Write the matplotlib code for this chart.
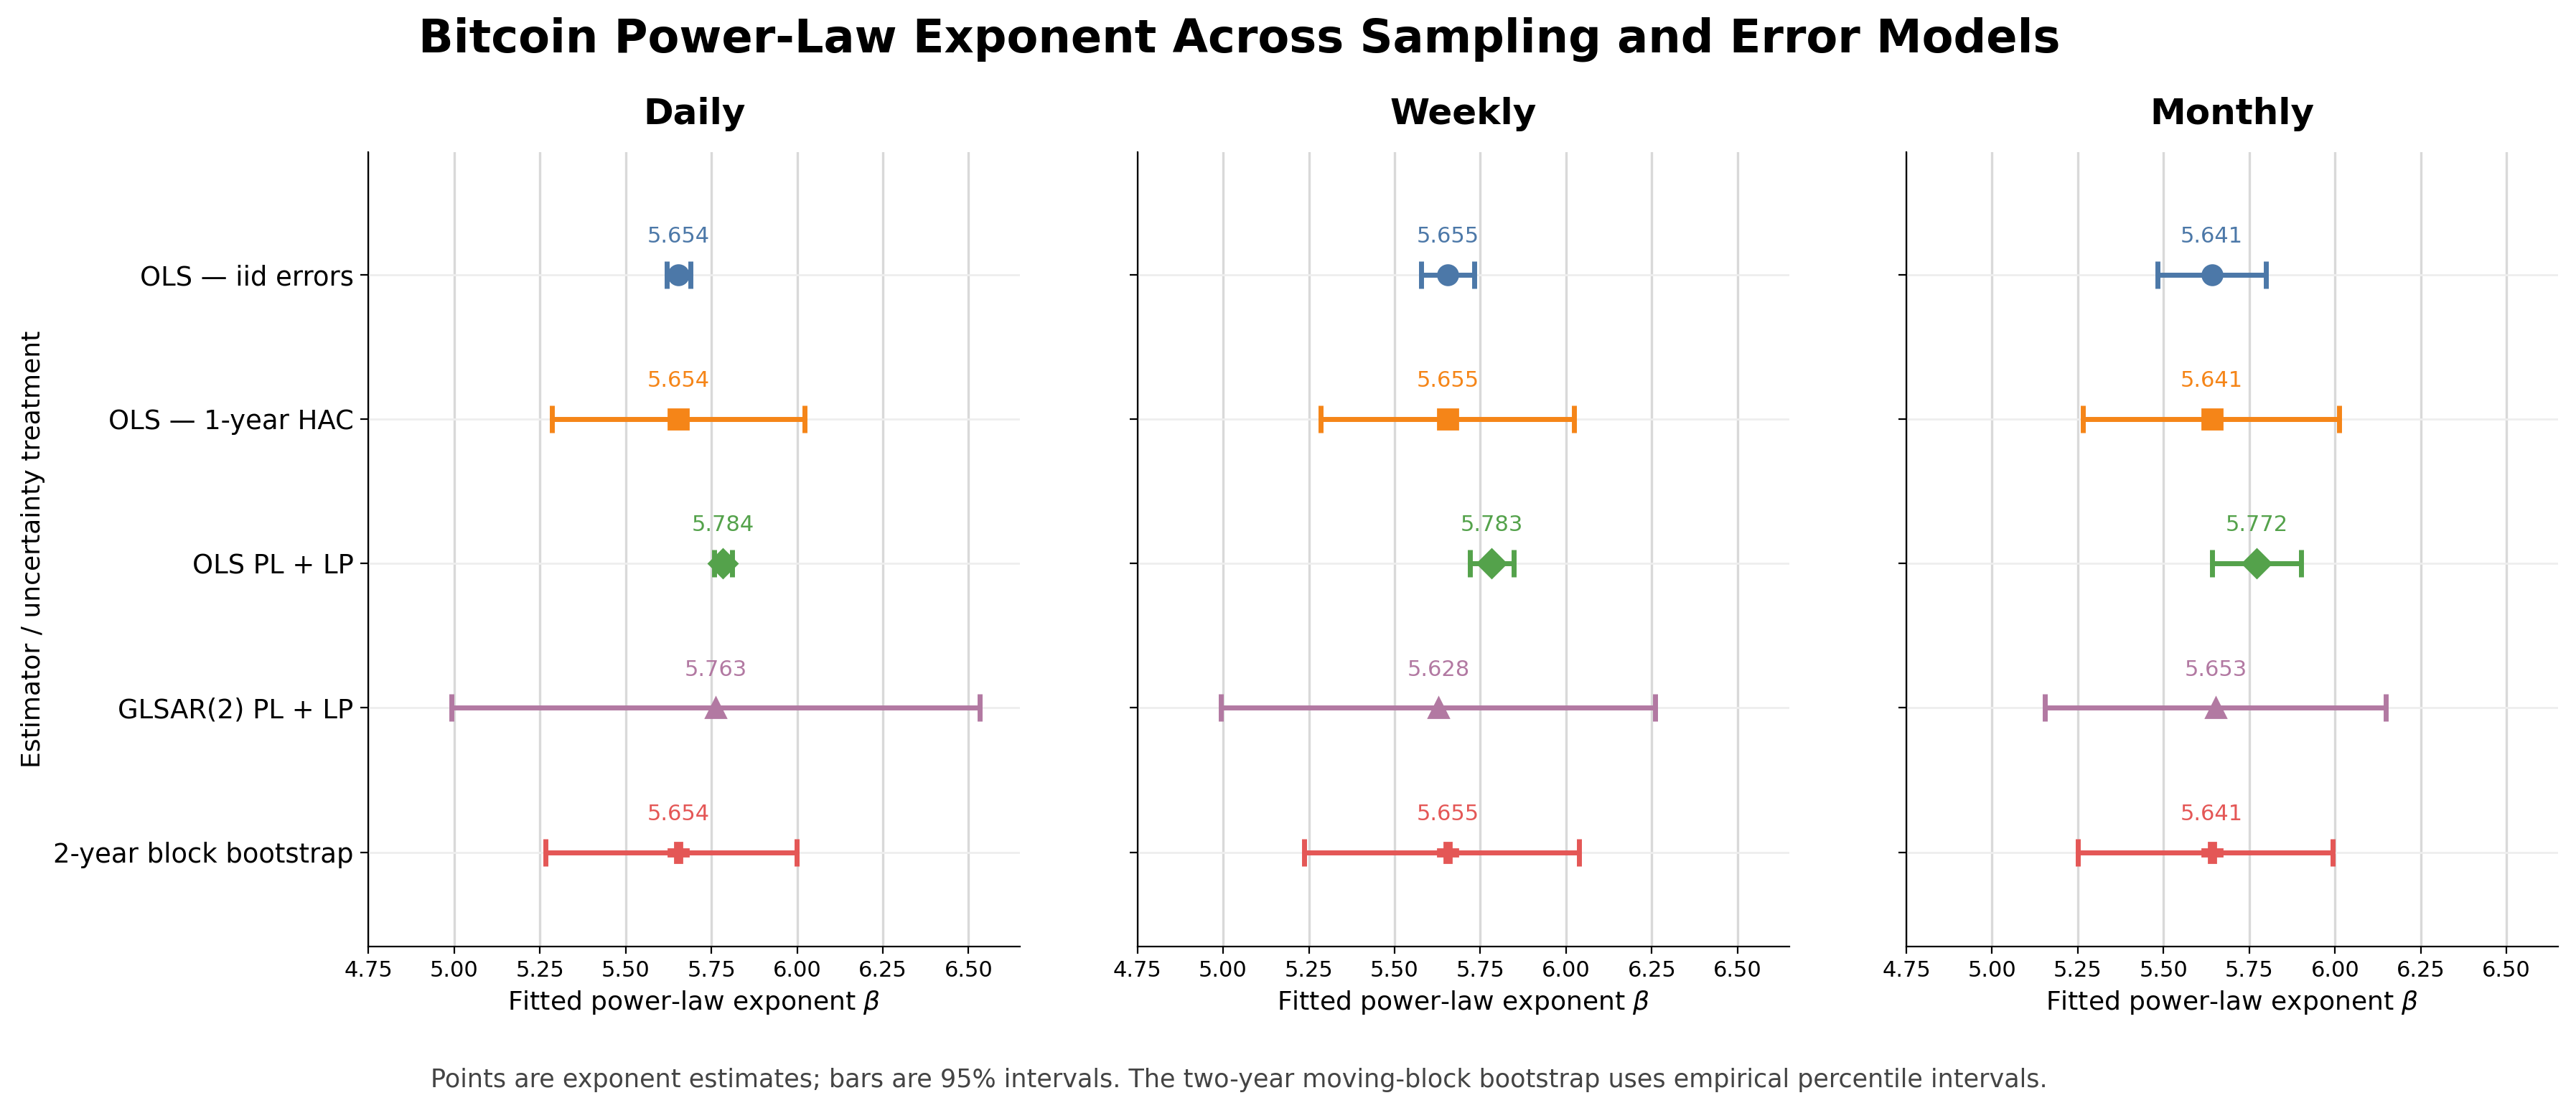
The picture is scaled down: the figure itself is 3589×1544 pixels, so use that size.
import numpy as np
import matplotlib.pyplot as plt

# estimator rows, top to bottom
estimators = [
    "OLS — iid errors",
    "OLS — 1-year HAC",
    "OLS PL + LP",
    "GLSAR(2) PL + LP",
    "2-year block bootstrap",
]
panels = ["Daily", "Weekly", "Monthly"]

# point estimates per panel
daily_est = [5.654, 5.654, 5.784, 5.763, 5.654]
weekly_est = [5.655, 5.655, 5.783, 5.628, 5.655]
monthly_est = [5.641, 5.641, 5.772, 5.653, 5.641]

# 95% interval bounds per panel
daily_lo = [5.620, 5.285, 5.759, 4.992, 5.266]
daily_hi = [5.689, 6.022, 5.810, 6.532, 5.999]
weekly_lo = [5.577, 5.285, 5.720, 4.994, 5.236]
weekly_hi = [5.733, 6.023, 5.847, 6.259, 6.037]
monthly_lo = [5.482, 5.265, 5.641, 5.155, 5.250]
monthly_hi = [5.799, 6.013, 5.902, 6.149, 5.994]

x_ticks = [4.75, 5.00, 5.25, 5.50, 5.75, 6.00, 6.25, 6.50]

colors = ["#4C78A8", "#F58518", "#54A24B", "#B279A2", "#E45756"]
markers = ["o", "s", "D", "^", "P"]

panel_data = [
    (daily_est, daily_lo, daily_hi),
    (weekly_est, weekly_lo, weekly_hi),
    (monthly_est, monthly_lo, monthly_hi),
]

fig, axes = plt.subplots(1, 3, figsize=(17.945, 7.72), dpi=200, sharey=True)
fig.subplots_adjust(left=0.143, right=0.993, top=0.863, bottom=0.146, wspace=0.18)

rows = np.arange(len(estimators))

for ax, name, (est, lo, hi) in zip(axes, panels, panel_data):
    for i in rows:
        err = [[est[i] - lo[i]], [hi[i] - est[i]]]
        ax.errorbar(est[i], i, xerr=err, fmt=markers[i], color=colors[i],
                    markersize=10, elinewidth=2.5, capsize=7, capthick=2.5, zorder=3)
        ax.annotate(f"{est[i]:.3f}", (est[i], i), xytext=(0, 14),
                    textcoords="offset points", ha="center", va="bottom",
                    fontsize=11, color=colors[i])
    ax.set_title(name, fontsize=18, fontweight="bold", pad=14)
    ax.set_xlim(4.75, 6.65)
    ax.set_xticks(x_ticks)
    ax.set_xticklabels([f"{t:.2f}" for t in x_ticks], fontsize=11)
    ax.set_ylim(4.65, -0.85)
    ax.set_yticks(rows)
    ax.set_xlabel(r"Fitted power-law exponent $\beta$", fontsize=13)
    ax.grid(axis="x", color="#d9d9d9", linewidth=1.2)
    ax.grid(axis="y", color="#eeeeee", linewidth=1.0)
    ax.set_axisbelow(True)
    ax.spines["top"].set_visible(False)
    ax.spines["right"].set_visible(False)
    ax.tick_params(axis="y", length=4)

axes[0].set_yticklabels(estimators, fontsize=13.3)
axes[0].set_ylabel("Estimator / uncertainty treatment", fontsize=13)

fig.suptitle("Bitcoin Power-Law Exponent Across Sampling and Error Models",
             x=0.481, y=0.985, fontsize=23, fontweight="bold")
fig.text(0.481, 0.025,
         "Points are exponent estimates; bars are 95% intervals. The two-year moving-block bootstrap uses empirical percentile intervals.",
         ha="center", va="center", fontsize=12.6, color="#444444")

fig.savefig("out.png", dpi=200)
